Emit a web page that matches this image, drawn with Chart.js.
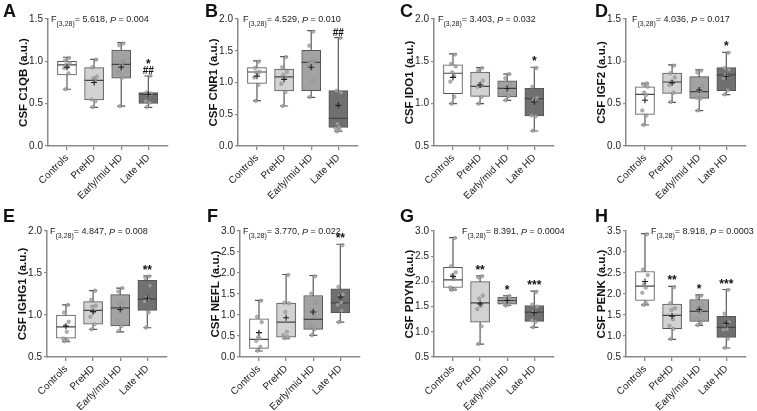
<!DOCTYPE html>
<html>
<head>
<meta charset="utf-8">
<script src="https://cdn.jsdelivr.net/npm/chart.js@4.4.0/dist/chart.umd.min.js"></script>
<style>
  html, body { margin: 0; padding: 0; background: #fff; }
  body { width: 757px; height: 411px; position: relative; overflow: hidden; }
  canvas { position: absolute; }
</style>
</head>
<body>
<script>
const groups = ['Controls', 'PreHD', 'Early/mid HD', 'Late HD'];
const boxFills = ['#ffffff', '#d2d2d2', '#a2a2a2', '#707070'];

// each stats row: min, q1, median, q3, max
const c1qbStats = [[0.67, 0.84, 0.957, 1.0, 1.048], [0.457, 0.543, 0.776, 0.925, 1.024], [0.47, 0.80, 0.965, 1.134, 1.22], [0.457, 0.504, 0.61, 0.63, 0.827]];
const c1qbMeans = [0.93, 0.75, 0.93, 0.61];
const c1qbPoints = [[1.04, 1.01, 0.98, 0.96, 0.93, 0.92, 0.86, 0.67], [1.02, 0.93, 0.82, 0.80, 0.78, 0.55, 0.53, 0.46], [1.21, 1.19, 1.01, 0.98, 0.95, 0.87, 0.81, 0.47], [0.83, 0.63, 0.62, 0.61, 0.60, 0.53, 0.51, 0.46]];
const c1qbStars = ['', '', '', '*'];
const c1qbHashes = ['', '', '', '##'];

const cnr1Stats = [[0.713, 0.987, 1.165, 1.233, 1.339], [0.63, 0.866, 1.09, 1.213, 1.406], [0.767, 0.871, 1.318, 1.507, 1.816], [0.231, 0.294, 0.436, 0.871, 1.706]];
const cnr1Means = [1.10, 1.05, 1.24, 0.64];
const cnr1Points = [[1.33, 1.23, 1.17, 1.16, 1.15, 1.08, 0.96, 0.71], [1.40, 1.24, 1.17, 1.12, 1.08, 0.98, 0.85, 0.63], [1.80, 1.58, 1.33, 1.32, 1.30, 1.29, 1.03, 0.77], [1.70, 0.87, 0.84, 0.35, 0.30, 0.28, 0.25, 0.23]];
const cnr1Stars = ['', '', '', ''];
const cnr1Hashes = ['', '', '', '##'];

const ido1Stats = [[1.0, 1.118, 1.359, 1.46, 1.587], [1.0, 1.087, 1.205, 1.374, 1.425], [1.04, 1.079, 1.181, 1.271, 1.35], [0.677, 0.854, 1.059, 1.18, 1.43]];
const ido1Means = [1.31, 1.22, 1.18, 1.02];
const ido1Points = [[1.58, 1.47, 1.44, 1.37, 1.33, 1.26, 1.08, 1.00], [1.42, 1.39, 1.27, 1.23, 1.21, 1.20, 1.08, 1.00], [1.35, 1.30, 1.24, 1.19, 1.18, 1.12, 1.09, 1.04], [1.42, 1.20, 1.07, 1.05, 1.03, 0.86, 0.85, 0.68]];
const ido1Stars = ['', '', '', '*'];

const igf2Stats = [[0.248, 0.374, 0.61, 0.70, 0.74], [0.516, 0.622, 0.756, 0.862, 0.957], [0.417, 0.563, 0.642, 0.819, 0.898], [0.606, 0.654, 0.839, 0.925, 1.106]];
const igf2Means = [0.54, 0.748, 0.661, 0.82];
const igf2Points = [[0.74, 0.73, 0.70, 0.63, 0.60, 0.42, 0.36, 0.25], [0.95, 0.86, 0.81, 0.76, 0.75, 0.72, 0.63, 0.52], [0.89, 0.87, 0.71, 0.66, 0.65, 0.57, 0.56, 0.42], [1.10, 0.92, 0.90, 0.84, 0.82, 0.80, 0.66, 0.61]];
const igf2Stars = ['', '', '', '*'];

const ighg1Stats = [[0.684, 0.723, 0.859, 1.0, 1.121], [0.828, 0.89, 1.055, 1.16, 1.289], [0.80, 0.871, 1.086, 1.242, 1.32], [0.848, 1.055, 1.19, 1.414, 1.465]];
const ighg1Means = [0.867, 1.04, 1.066, 1.20];
const ighg1Points = [[1.12, 1.03, 0.92, 0.87, 0.80, 0.72, 0.70, 0.69], [1.29, 1.18, 1.11, 1.10, 1.04, 0.98, 0.89, 0.83], [1.32, 1.28, 1.15, 1.14, 1.07, 0.93, 0.87, 0.81], [1.46, 1.44, 1.35, 1.21, 1.19, 1.16, 1.03, 0.85]];
const ighg1Stars = ['', '', '', '**'];

const neflStats = [[0.143, 0.206, 0.42, 0.91, 1.346], [0.435, 0.475, 0.831, 1.283, 1.964], [0.515, 0.657, 0.895, 1.465, 1.94], [0.831, 1.053, 1.29, 1.623, 2.684]];
const neflMeans = [0.58, 0.934, 1.07, 1.425];
const neflPoints = [[1.34, 0.96, 0.83, 0.47, 0.44, 0.38, 0.24, 0.15], [1.95, 1.29, 1.28, 1.07, 0.60, 0.52, 0.48, 0.45], [1.92, 1.51, 1.30, 1.10, 0.98, 0.75, 0.66, 0.52], [2.66, 1.67, 1.49, 1.45, 1.30, 1.24, 1.10, 0.83]];
const neflStars = ['', '', '', '**'];

const pdynStats = [[1.832, 1.879, 2.03, 2.281, 2.868], [0.757, 1.193, 1.575, 1.997, 2.11], [1.522, 1.549, 1.621, 1.687, 1.72], [1.087, 1.206, 1.39, 1.522, 1.806]];
const pdynMeans = [2.10, 1.555, 1.62, 1.38];
const pdynPoints = [[2.86, 2.30, 2.18, 2.12, 2.05, 1.88, 1.85, 1.83], [2.10, 2.08, 1.72, 1.66, 1.52, 1.45, 1.11, 0.76], [1.71, 1.69, 1.66, 1.63, 1.61, 1.58, 1.54, 1.52], [1.79, 1.54, 1.50, 1.40, 1.38, 1.23, 1.20, 1.09]];
const pdynStars = ['', '**', '*', '***'];

const penkStats = [[1.743, 1.846, 2.186, 2.535, 3.437], [0.92, 1.173, 1.49, 1.759, 2.18], [1.252, 1.347, 1.585, 1.87, 1.98], [0.714, 0.967, 1.205, 1.466, 2.107]];
const penkMeans = [2.297, 1.474, 1.63, 1.30];
const penkPoints = [[3.42, 2.58, 2.45, 2.23, 2.15, 2.03, 1.78, 1.74], [2.16, 1.78, 1.66, 1.62, 1.40, 1.24, 1.17, 0.93], [1.96, 1.92, 1.73, 1.65, 1.57, 1.40, 1.30, 1.26], [2.10, 1.53, 1.33, 1.27, 1.16, 1.15, 0.93, 0.72]];
const penkStars = ['', '**', '*', '***'];

const panels = [
    { letter: 'A', title: 'CSF C1QB (a.u.)', x0: 48, row: 0, yMin: 0, yMax: 1.5, F: '5.618', P: '0.004', statDx: 3, letterX: 3, stats: c1qbStats, means: c1qbMeans, points: c1qbPoints, stars: c1qbStars, hashes: c1qbHashes },
    { letter: 'B', title: 'CSF CNR1 (a.u.)', x0: 238, row: 0, yMin: 0, yMax: 2.0, F: '4.529', P: '0.010', statDx: 5, letterX: 205, stats: cnr1Stats, means: cnr1Means, points: cnr1Points, stars: cnr1Stars, hashes: cnr1Hashes },
    { letter: 'C', title: 'CSF IDO1 (a.u.)', x0: 434, row: 0, yMin: 0.5, yMax: 2.0, F: '3.403', P: '0.032', statDx: 4, letterX: 400, stats: ido1Stats, means: ido1Means, points: ido1Points, stars: ido1Stars },
    { letter: 'D', title: 'CSF IGF2 (a.u.)', x0: 626, row: 0, yMin: 0, yMax: 1.5, F: '4.036', P: '0.017', statDx: 6, letterX: 595, stats: igf2Stats, means: igf2Means, points: igf2Points, stars: igf2Stars },
    { letter: 'E', title: 'CSF IGHG1 (a.u.)', x0: 47, row: 1, yMin: 0.5, yMax: 2.0, F: '4.847', P: '0.008', statDx: 3, letterX: 3, stats: ighg1Stats, means: ighg1Means, points: ighg1Points, stars: ighg1Stars },
    { letter: 'F', title: 'CSF NEFL (a.u.)', x0: 240, row: 1, yMin: 0, yMax: 3.0, F: '3.770', P: '0.022', statDx: 3, letterX: 207, stats: neflStats, means: neflMeans, points: neflPoints, stars: neflStars },
    { letter: 'G', title: 'CSF PDYN (a.u.)', x0: 434, row: 1, yMin: 0.5, yMax: 3.0, F: '8.391', P: '0.0004', statDx: 28, letterX: 400, stats: pdynStats, means: pdynMeans, points: pdynPoints, stars: pdynStars },
    { letter: 'H', title: 'CSF PENK (a.u.)', x0: 626, row: 1, yMin: 0.5, yMax: 3.5, F: '8.918', P: '0.0003', statDx: 25, letterX: 595, stats: penkStats, means: penkMeans, points: penkPoints, stars: penkStars }
];

const FONT = '"Liberation Sans", Arial, Helvetica, sans-serif';
const axisGray = '#8a8a8a';
const jitter = [0.07, -0.07, 0.1, -0.03, 0.03, -0.1, 0.05, -0.05];

// row geometry
const rows = [
    { top: 0, height: 205, plotTop: 19, plotBottom: 146, letterY: 3 },
    { top: 205, height: 206, plotTop: 231, plotBottom: 357, letterY: 208 }
];

function drawPanel(p) {
    const r = rows[p.row];
    const left = p.x0 - 52;
    const w = 182;
    const cv = document.createElement('canvas');
    cv.width = w;
    cv.height = r.height;
    cv.style.left = left + 'px';
    cv.style.top = r.top + 'px';
    cv.style.width = w + 'px';
    cv.style.height = r.height + 'px';
    document.body.appendChild(cv);

    const boxData = p.stats.map((s, i) => ({ x: i, y: [s[1], s[3]] }));
    const whiskers = [];
    p.stats.forEach((s, i) => {
        whiskers.push({ x: i, y: s[0] }, { x: i, y: s[4] }, { x: i, y: null });
    });
    const caps = p.stats.flatMap((s, i) => [{ x: i, y: s[0] }, { x: i, y: s[4] }]);
    const medians = p.stats.map((s, i) => ({ x: i, y: s[2] }));
    const means = p.means.map((m, i) => ({ x: i, y: m }));
    const dots = p.points.flatMap((arr, i) => arr.map((v, j) => ({ x: i + jitter[j], y: v })));

    // letters, F statistic and significance marks
    const labels = {
        id: 'labels',
        afterDraw(chart) {
            const { ctx, chartArea, scales } = chart;
            ctx.save();
            ctx.fillStyle = '#111';
            ctx.textAlign = 'left';
            ctx.textBaseline = 'top';
            ctx.font = 'bold 18px ' + FONT;
            ctx.fillText(p.letter, p.letterX - left, r.letterY - r.top);

            let tx = chartArea.left + p.statDx;
            const ty = chartArea.top + 1;
            ctx.textBaseline = 'middle';
            ctx.fillStyle = '#222';
            const put = (txt, f, dy) => {
                ctx.font = f;
                ctx.fillText(txt, tx, ty + dy);
                tx += ctx.measureText(txt).width;
            };
            put('F', '9px ' + FONT, 0);
            put('(3,28)', '7px ' + FONT, 4.5);
            put('= ' + p.F + ', ', '9px ' + FONT, 0);
            put('P', 'italic 9px ' + FONT, 0);
            put(' = ' + p.P, '9px ' + FONT, 0);

            ctx.textAlign = 'center';
            ctx.textBaseline = 'alphabetic';
            ctx.fillStyle = '#111';
            p.stats.forEach((s, i) => {
                const px = scales.x.getPixelForValue(i);
                let by = scales.y.getPixelForValue(s[4]) - 2;
                if (p.hashes && p.hashes[i]) {
                    ctx.font = 'bold 10px ' + FONT;
                    ctx.fillText(p.hashes[i], px, by);
                    by -= 6;
                }
                if (p.stars[i]) {
                    ctx.font = 'bold 12px ' + FONT;
                    ctx.fillText(p.stars[i], px, by);
                }
            });
            ctx.restore();
        }
    };

    new Chart(cv, {
        type: 'bar',
        data: {
            datasets: [
                {
                    type: 'line', data: means, showLine: false, order: 0,
                    pointStyle: 'cross', pointRadius: 3, pointBorderWidth: 1.1,
                    pointBorderColor: '#222', pointBackgroundColor: '#222'
                },
                {
                    type: 'line', data: dots, showLine: false, order: 1,
                    pointStyle: 'circle', pointRadius: 1.8, pointBorderWidth: 0.5,
                    pointBackgroundColor: 'rgba(165,165,165,0.85)', pointBorderColor: 'rgba(125,125,125,0.85)'
                },
                {
                    type: 'line', data: medians, showLine: false, order: 2,
                    pointStyle: 'line', pointRadius: 9.5, pointBorderWidth: 1.2, pointBorderColor: '#444'
                },
                {
                    type: 'line', data: caps, showLine: false, order: 3,
                    pointStyle: 'line', pointRadius: 4, pointBorderWidth: 1.2, pointBorderColor: '#555'
                },
                {
                    type: 'bar', data: boxData, order: 4,
                    backgroundColor: boxFills, borderColor: '#555', borderWidth: 1,
                    borderSkipped: false, barThickness: 19
                },
                {
                    type: 'line', data: whiskers, order: 5, spanGaps: false,
                    borderColor: '#5a5a5a', borderWidth: 1.2, pointRadius: 0
                }
            ]
        },
        options: {
            responsive: false,
            animation: false,
            devicePixelRatio: 1,
            layout: { padding: { top: r.plotTop - r.top, right: 3, left: 0, bottom: 0 } },
            plugins: { legend: { display: false }, tooltip: { enabled: false } },
            scales: {
                x: {
                    type: 'linear', min: -0.7, max: 3.7, offset: false,
                    afterBuildTicks: s => { s.ticks = [0, 1, 2, 3].map(v => ({ value: v })); },
                    afterFit: s => { s.height = r.top + r.height - r.plotBottom; },
                    ticks: {
                        autoSkip: false, minRotation: 45, maxRotation: 45, padding: 2,
                        color: '#222', font: { family: FONT, size: 10 },
                        callback: v => groups[v]
                    },
                    grid: { offset: false, drawOnChartArea: false, drawTicks: true, tickLength: 4, color: axisGray, lineWidth: 1.3 },
                    border: { color: axisGray, width: 1.5 }
                },
                y: {
                    min: p.yMin, max: p.yMax,
                    afterFit: s => { s.width = 52; },
                    ticks: {
                        stepSize: 0.5, padding: 2, color: '#222', font: { family: FONT, size: 10 },
                        callback: v => v.toFixed(1)
                    },
                    grid: { drawOnChartArea: false, drawTicks: true, tickLength: 3, color: axisGray, lineWidth: 1.3 },
                    border: { color: axisGray, width: 1.5 },
                    title: {
                        display: true, text: p.title, color: '#111',
                        font: { family: FONT, size: 11.5, weight: 'bold' },
                        padding: { top: 21, bottom: 0 }
                    }
                }
            }
        },
        plugins: [labels]
    });
}

panels.forEach(drawPanel);
</script>
</body>
</html>
